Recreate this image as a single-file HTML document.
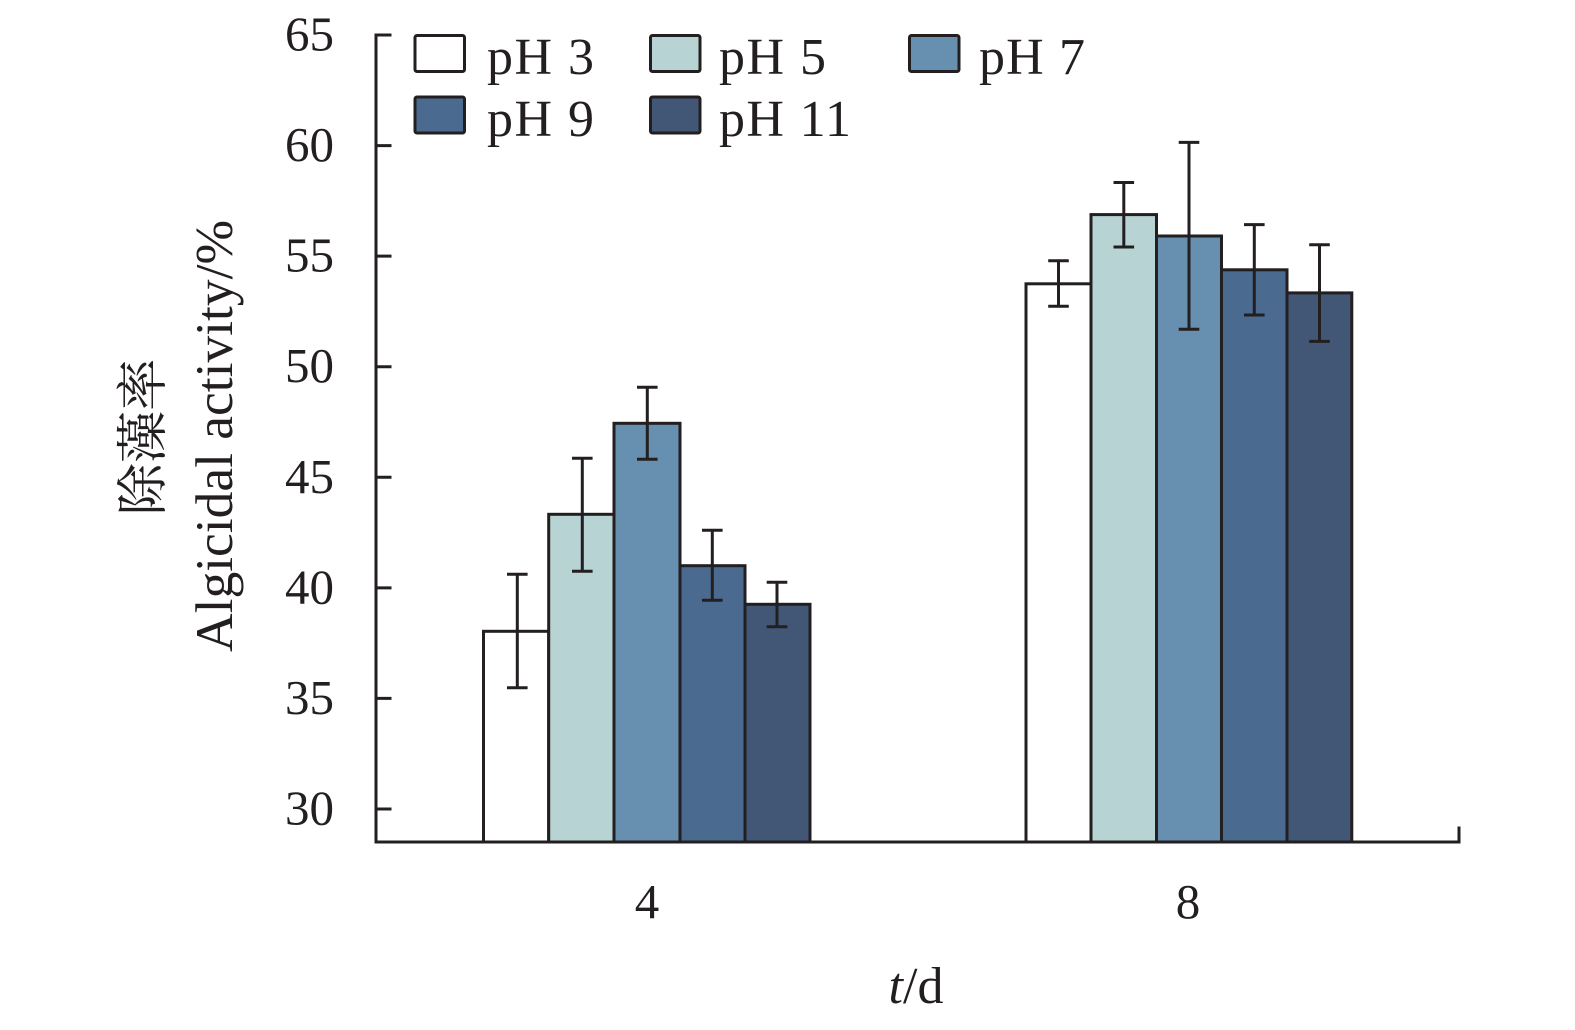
<!DOCTYPE html>
<html>
<head>
<meta charset="utf-8">
<style>
  html, body { margin:0; padding:0; background:#ffffff; }
  svg { display:block; }
  text { font-family: "Liberation Serif", "Noto Serif CJK SC", serif; fill:#231f20; }
</style>
</head>
<body>
<svg width="1575" height="1030" viewBox="0 0 1575 1030" xmlns="http://www.w3.org/2000/svg">
  <rect x="0" y="0" width="1575" height="1030" fill="#ffffff"/>

  <!-- Bars group t=4 -->
  <g stroke="#231f20" stroke-width="3" stroke-linejoin="miter">
    <rect x="483.5" y="631.3" width="65.2" height="210.7" fill="#ffffff"/>
    <rect x="548.7" y="514.3" width="65.3" height="327.7" fill="#b8d3d3"/>
    <rect x="614" y="423.3" width="66" height="418.7" fill="#668fb0"/>
    <rect x="680" y="565.7" width="65" height="276.3" fill="#4a6b8f"/>
    <rect x="745" y="604.3" width="65" height="237.7" fill="#425676"/>

    <!-- Bars group t=8 -->
    <rect x="1026" y="283.8" width="65" height="558.2" fill="#ffffff"/>
    <rect x="1091" y="214.6" width="65.5" height="627.4" fill="#b8d3d3"/>
    <rect x="1156.5" y="236" width="65" height="606" fill="#668fb0"/>
    <rect x="1221.5" y="269.8" width="65.5" height="572.2" fill="#4a6b8f"/>
    <rect x="1287" y="292.9" width="64.8" height="549.1" fill="#425676"/>
  </g>

  <!-- Error bars -->
  <g stroke="#231f20" stroke-width="3" fill="none">
    <path d="M517.3 574.3 V687.7 M507 574.3 H527.6 M507 687.7 H527.6"/>
    <path d="M582.3 458.3 V571.3 M572 458.3 H592.6 M572 571.3 H592.6"/>
    <path d="M647.3 387.3 V459.3 M637 387.3 H657.6 M637 459.3 H657.6"/>
    <path d="M712.3 530.3 V600.3 M702 530.3 H722.6 M702 600.3 H722.6"/>
    <path d="M777 582.3 V626.7 M766.7 582.3 H787.3 M766.7 626.7 H787.3"/>
    <path d="M1058.5 260.8 V306.3 M1048.2 260.8 H1068.8 M1048.2 306.3 H1068.8"/>
    <path d="M1123.8 182.5 V247 M1113.5 182.5 H1134.1 M1113.5 247 H1134.1"/>
    <path d="M1189 142.4 V329.3 M1178.7 142.4 H1199.3 M1178.7 329.3 H1199.3"/>
    <path d="M1254.3 224.6 V315 M1244 224.6 H1264.6 M1244 315 H1264.6"/>
    <path d="M1319.5 244.7 V341.4 M1309.2 244.7 H1329.8 M1309.2 341.4 H1329.8"/>
  </g>

  <!-- Axes -->
  <g stroke="#231f20" stroke-width="3" fill="none" stroke-linecap="square">
    <path d="M376 35 V842 H1459 V828"/>
    <path d="M376 35 H390"/>
    <path d="M376 145.6 H390"/>
    <path d="M376 256.1 H390"/>
    <path d="M376 366.7 H390"/>
    <path d="M376 477.3 H390"/>
    <path d="M376 587.9 H390"/>
    <path d="M376 698.4 H390"/>
    <path d="M376 809 H390"/>
  </g>

  <!-- Y tick labels -->
  <g font-size="49" text-anchor="end">
    <text x="334" y="50.5">65</text>
    <text x="334" y="161.1">60</text>
    <text x="334" y="271.6">55</text>
    <text x="334" y="382.2">50</text>
    <text x="334" y="492.8">45</text>
    <text x="334" y="603.4">40</text>
    <text x="334" y="713.9">35</text>
    <text x="334" y="824.5">30</text>
  </g>

  <!-- X tick labels -->
  <g font-size="49" text-anchor="middle">
    <text x="647" y="918">4</text>
    <text x="1188" y="918">8</text>
  </g>

  <!-- X axis title -->
  <text x="916" y="1003" font-size="52" text-anchor="middle"><tspan font-style="italic">t</tspan>/d</text>

  <!-- Y axis title -->
  <text transform="translate(232,436) rotate(-90)" font-size="53" text-anchor="middle" textLength="432" lengthAdjust="spacingAndGlyphs">Algicidal activity/%</text>
  <text transform="translate(161,437) rotate(-90)" font-size="52" text-anchor="middle" textLength="157" lengthAdjust="spacingAndGlyphs" style='font-family:"Noto Serif CJK SC","Noto Sans CJK SC",serif;'>除藻率</text>

  <!-- Legend -->
  <g stroke="#231f20" stroke-width="3">
    <rect x="415" y="35.5" width="49.5" height="36" rx="2" fill="#ffffff"/>
    <rect x="650.5" y="35.5" width="49.5" height="36" rx="2" fill="#b8d3d3"/>
    <rect x="909.5" y="35.5" width="49.5" height="36" rx="2" fill="#668fb0"/>
    <rect x="415" y="97" width="49.5" height="36" rx="2" fill="#4a6b8f"/>
    <rect x="650.5" y="97" width="49.5" height="36" rx="2" fill="#425676"/>
  </g>
  <g font-size="52">
    <text x="487" y="74" textLength="107" lengthAdjust="spacing">pH 3</text>
    <text x="719" y="74" textLength="107" lengthAdjust="spacing">pH 5</text>
    <text x="979" y="74" textLength="106" lengthAdjust="spacing">pH 7</text>
    <text x="487" y="136" textLength="107" lengthAdjust="spacing">pH 9</text>
    <text x="719" y="136" textLength="132" lengthAdjust="spacing">pH 11</text>
  </g>
</svg>
</body>
</html>
